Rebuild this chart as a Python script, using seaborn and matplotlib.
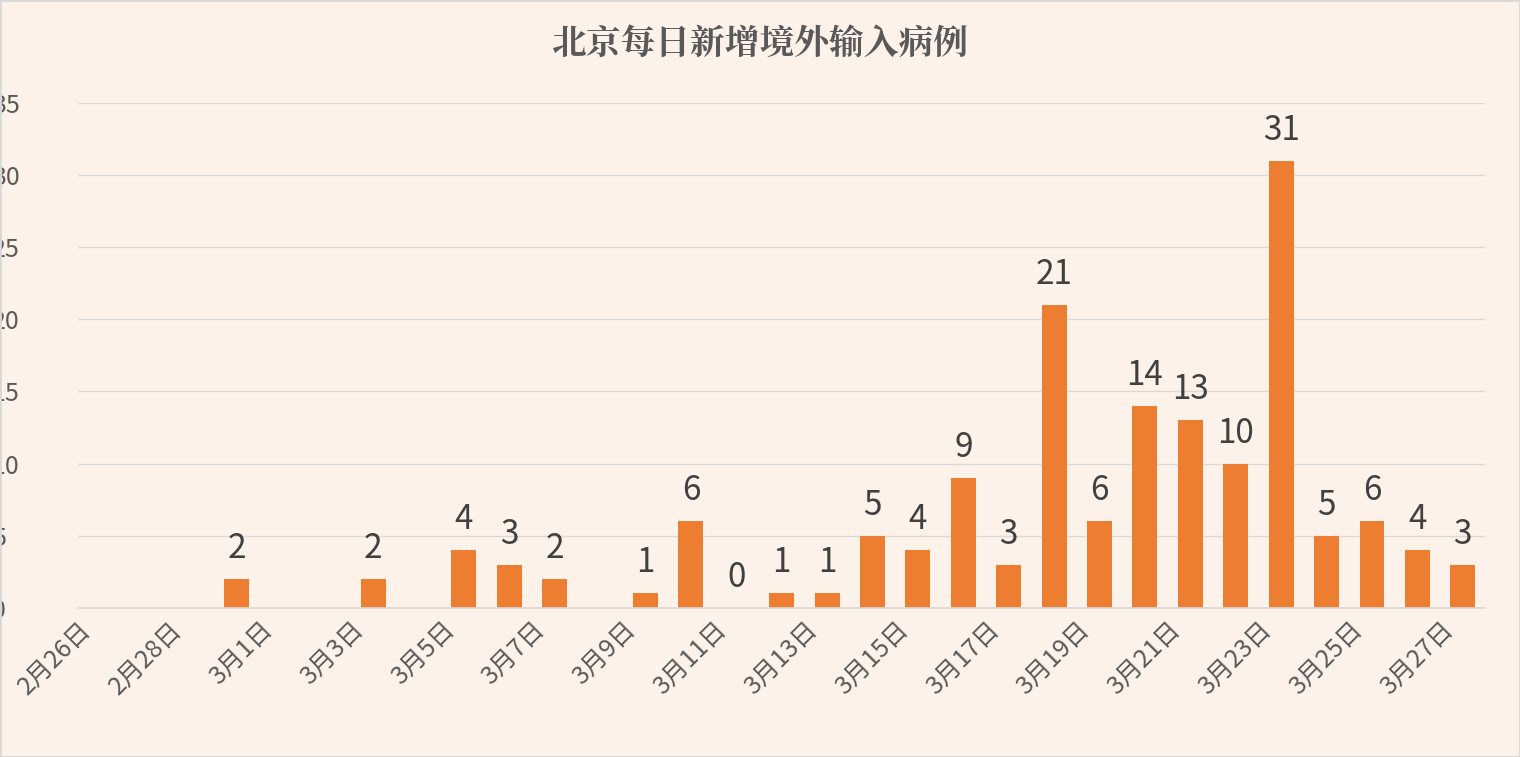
import matplotlib
matplotlib.use("Agg")
import matplotlib.pyplot as plt
import seaborn as sns
import pandas as pd
import numpy as np

dates = ["2月26日","2月27日","2月28日","2月29日"] + [f"3月{d}日" for d in range(1, 28)]
values = [None, None, None, 2, None, None, 2, None, 4, 3, 2, None, 1, 6, 0, 1, 1, 5, 4, 9, 3,
          21, 6, 14, 13, 10, 31, 5, 6, 4, 3]
title = "北京每日新增境外输入病例"

sns.set_theme(style="white")
plt.rcParams['font.family'] = ['Noto Sans CJK SC', 'DejaVu Sans']
bg = "#FDF2E9"
fig = plt.figure(figsize=(15.2, 7.57), dpi=100, facecolor=bg)
ax = fig.add_axes([0.0513, 0.197, 0.926, 0.667], facecolor=bg)
df = pd.DataFrame({"date": dates, "v": [np.nan if v is None else v for v in values]})
sns.barplot(data=df, x="date", y="v", order=dates, color="#ED7D31", width=0.55,
            saturation=1, linewidth=0, ax=ax)
ax.set_ylim(0, 35)
ax.set_xlim(-0.5, len(dates) - 0.5)
ax.set_yticks(range(0, 36, 5))
ax.yaxis.grid(True, color="#D9D9D9", lw=1)
ax.set_axisbelow(True)
for s in ["top", "right", "left"]:
    ax.spines[s].set_visible(False)
ax.spines["bottom"].set_color("#D9D9D9")
ax.tick_params(axis="y", labelsize=18, colors="#595959", length=0, pad=62)
for t in ax.get_yticklabels():
    t.set_horizontalalignment("left")
pos = [i - 0.5 for i in range(0, len(dates), 2)]
ax.set_xticks(pos)
ax.set_xticklabels(dates[::2], rotation=45, ha="right", rotation_mode="anchor",
                   fontsize=18, color="#595959")
ax.tick_params(axis="x", length=0, pad=6)
ax.set_xlabel("")
ax.set_ylabel("")
for i, v in enumerate(values):
    if v is not None:
        ax.text(i, v + 0.9, str(v), ha="center", va="bottom", fontsize=24, color="#404040")
fig.text(0.5, 0.94, title, ha="center", va="center", fontsize=25, color="#595959",
         fontweight="bold",
         family=['Noto Serif CJK SC', 'Noto Sans CJK SC', 'DejaVu Sans'])
fig.patches.append(plt.Rectangle((0, 0), 1, 1, transform=fig.transFigure, fill=False,
                                 ec="#D9D9D9", lw=2))
fig.savefig("out.png", dpi=100, facecolor=bg)
